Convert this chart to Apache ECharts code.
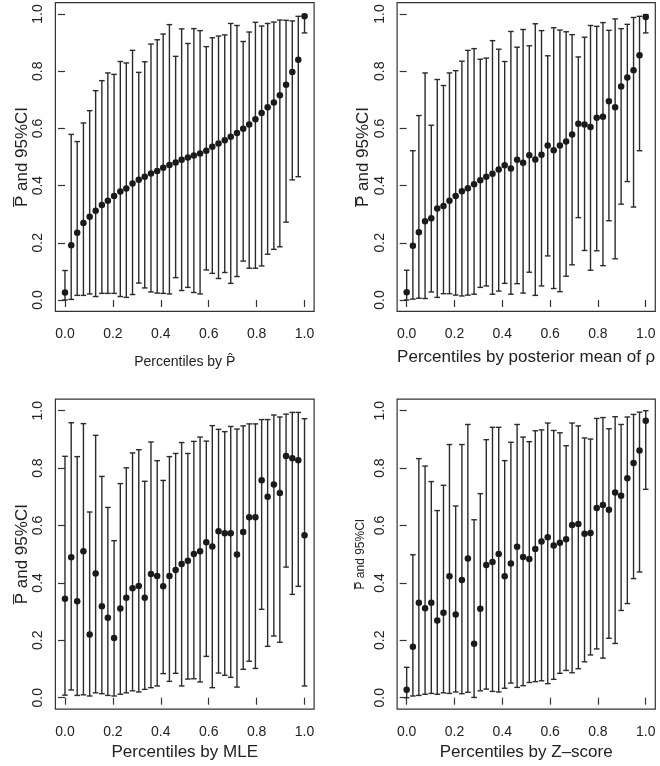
<!DOCTYPE html>
<html>
<head>
<meta charset="utf-8">
<script src="https://cdn.jsdelivr.net/npm/echarts@6/dist/echarts.min.js"></script>
<style>html,body{margin:0;padding:0;background:#fff;}#c{width:660px;height:766px;}</style>
</head>
<body>
<div id="c"></div>
<script>
// Percentile positions (40 groups)
const pct = [0, 0.026, 0.051, 0.077, 0.103, 0.128, 0.154, 0.179, 0.205, 0.231,
  0.256, 0.282, 0.308, 0.333, 0.359, 0.385, 0.410, 0.436, 0.462, 0.487,
  0.513, 0.538, 0.564, 0.590, 0.615, 0.641, 0.667, 0.692, 0.718, 0.744,
  0.769, 0.795, 0.821, 0.846, 0.872, 0.897, 0.923, 0.949, 0.974, 1];
const tickValues = [0, 0.2, 0.4, 0.6, 0.8, 1.0];

// Panel 1: percentiles by P-hat
const p1Mean = [0.026,0.191,0.235,0.269,0.291,0.312,0.332,0.347,0.364,0.379,0.390,0.407,0.420,0.431,0.442,0.451,0.462,0.472,0.481,0.490,0.498,0.505,0.512,0.522,0.536,0.547,0.559,0.571,0.584,0.599,0.614,0.632,0.654,0.674,0.691,0.716,0.753,0.797,0.840,0.992];
const p1Hi = [0.103,0.579,0.554,0.619,0.662,0.732,0.767,0.794,0.789,0.834,0.829,0.873,0.796,0.833,0.895,0.910,0.930,0.963,0.852,0.948,0.897,0.949,0.942,0.886,0.917,0.923,0.927,0.967,0.960,0.904,0.937,0.971,0.958,0.967,0.972,0.979,0.978,0.976,0.992,0.998];
const p1Lo = [0.0,0.002,0.016,0.016,0.021,0.012,0.023,0.023,0.023,0.012,0.009,0.019,0.059,0.042,0.028,0.024,0.023,0.021,0.078,0.033,0.044,0.026,0.021,0.105,0.093,0.075,0.096,0.058,0.082,0.136,0.111,0.111,0.119,0.160,0.177,0.186,0.272,0.420,0.431,0.934];

// Panel 2: percentiles by posterior mean of rho
const p2Mean = [0.027,0.190,0.237,0.275,0.286,0.320,0.329,0.347,0.364,0.380,0.391,0.405,0.419,0.431,0.441,0.456,0.471,0.460,0.490,0.480,0.506,0.491,0.508,0.540,0.524,0.540,0.554,0.579,0.616,0.614,0.605,0.637,0.641,0.695,0.674,0.747,0.778,0.803,0.856,0.990];
const p2Hi = [0.104,0.522,0.645,0.794,0.611,0.771,0.750,0.794,0.802,0.835,0.873,0.879,0.842,0.846,0.907,0.877,0.834,0.939,0.884,0.946,0.889,0.966,0.942,0.854,0.952,0.944,0.938,0.928,0.850,0.919,0.960,0.957,0.970,0.943,0.983,0.949,0.964,0.988,0.992,0.998];
const p2Lo = [0.0,0.003,0.006,0.005,0.028,0.009,0.022,0.022,0.017,0.014,0.017,0.020,0.044,0.049,0.020,0.031,0.058,0.020,0.057,0.024,0.097,0.016,0.049,0.154,0.040,0.029,0.083,0.123,0.288,0.173,0.104,0.172,0.120,0.277,0.144,0.335,0.414,0.325,0.522,0.934];

// Panel 3: percentiles by MLE
const p3Mean = [0.345,0.489,0.336,0.510,0.220,0.433,0.319,0.279,0.208,0.311,0.348,0.381,0.389,0.348,0.431,0.424,0.388,0.424,0.445,0.466,0.477,0.501,0.510,0.542,0.527,0.580,0.573,0.573,0.499,0.577,0.629,0.629,0.758,0.700,0.743,0.713,0.842,0.834,0.827,0.566];
const p3Hi = [0.841,0.958,0.840,0.955,0.647,0.914,0.771,0.663,0.547,0.746,0.801,0.853,0.864,0.754,0.891,0.826,0.757,0.840,0.851,0.889,0.851,0.893,0.908,0.894,0.948,0.935,0.927,0.945,0.936,0.947,0.954,0.954,0.969,0.969,0.985,0.978,0.988,0.994,0.994,0.972];
const p3Lo = [0.009,0.027,0.008,0.010,0.006,0.017,0.014,0.008,0.006,0.012,0.017,0.024,0.020,0.029,0.035,0.041,0.084,0.057,0.085,0.041,0.065,0.066,0.055,0.144,0.035,0.086,0.078,0.071,0.037,0.099,0.127,0.102,0.308,0.179,0.215,0.193,0.455,0.360,0.388,0.041];

// Panel 4: percentiles by Z-score
const p4Mean = [0.028,0.178,0.331,0.312,0.331,0.269,0.296,0.423,0.290,0.410,0.485,0.188,0.310,0.462,0.473,0.501,0.423,0.468,0.526,0.490,0.483,0.518,0.544,0.559,0.530,0.540,0.552,0.602,0.605,0.571,0.574,0.661,0.671,0.655,0.715,0.704,0.765,0.818,0.861,0.965];
const p4Hi = [0.106,0.498,0.833,0.807,0.753,0.652,0.740,0.882,0.668,0.882,0.952,0.620,0.711,0.899,0.942,0.942,0.826,0.890,0.952,0.908,0.892,0.930,0.933,0.957,0.931,0.923,0.878,0.957,0.947,0.905,0.901,0.973,0.976,0.937,0.979,0.952,0.978,0.987,0.995,1.000];
const p4Lo = [0.0,0.006,0.008,0.012,0.015,0.012,0.017,0.015,0.020,0.014,0.019,0.001,0.024,0.030,0.022,0.020,0.033,0.051,0.036,0.042,0.053,0.056,0.059,0.049,0.064,0.085,0.095,0.087,0.101,0.125,0.149,0.170,0.138,0.207,0.189,0.304,0.328,0.415,0.438,0.726];

const xNames = ['Percentiles by P\u0302', 'Percentiles by posterior mean of \u03C1', 'Percentiles by MLE', 'Percentiles by Z\u2013score'];
const yName = 'P\u0305 and 95%CI';

const FONT = '"Liberation Sans", Arial, Helvetica, sans-serif';
const INK = '#222';

const grids = [
  {left: 55.4, top: 2.6, width: 258.7, height: 308.8},
  {left: 397.1, top: 2.6, width: 258.2, height: 308.8},
  {left: 55.4, top: 399.2, width: 258.7, height: 310},
  {left: 397.1, top: 399.2, width: 258.2, height: 310}
];
const xNameSize = [14, 17, 17, 17];
const xNameGap = [44, 37, 35, 35];
const yNameSize = [17, 17, 17, 12];
const yNameGap = [23, 23, 23, 30];

const panels = [[p1Mean,p1Lo,p1Hi],[p2Mean,p2Lo,p2Hi],[p3Mean,p3Lo,p3Hi],[p4Mean,p4Lo,p4Hi]];

function renderBar(params, api) {
  const x = api.value(0);
  const a = api.coord([x, api.value(1)]);
  const b = api.coord([x, api.value(2)]);
  const w = 2.8;
  const style = {stroke: '#2b2b2b', lineWidth: 1.4};
  return {type: 'group', children: [
    {type: 'line', shape: {x1: a[0], y1: a[1], x2: b[0], y2: b[1]}, style: style},
    {type: 'line', shape: {x1: a[0]-w, y1: a[1], x2: a[0]+w, y2: a[1]}, style: style},
    {type: 'line', shape: {x1: b[0]-w, y1: b[1], x2: b[0]+w, y2: b[1]}, style: style}
  ]};
}

const option = {
  animation: false,
  backgroundColor: '#fff',
  textStyle: {fontFamily: FONT},
  grid: grids.map(g => Object.assign({show: true, borderColor: '#333', borderWidth: 1.2, backgroundColor: 'transparent'}, g)),
  xAxis: grids.map((g, i) => ({
    type: 'value', gridIndex: i, min: -0.04, max: 1.04,
    splitLine: {show: false},
    axisLine: {show: false},
    axisTick: {show: true, customValues: tickValues, length: 7, lineStyle: {color: '#333', width: 1.2}},
    axisLabel: {customValues: tickValues, formatter: v => v.toFixed(1), fontSize: 14, color: INK, margin: 16, fontFamily: FONT},
    name: xNames[i], nameLocation: 'middle', nameGap: xNameGap[i],
    nameTextStyle: {fontSize: xNameSize[i], color: INK, fontFamily: FONT}
  })),
  yAxis: grids.map((g, i) => ({
    type: 'value', gridIndex: i, min: -0.04, max: 1.04,
    splitLine: {show: false},
    axisLine: {show: false},
    axisTick: {show: true, customValues: tickValues, length: 7, lineStyle: {color: '#333', width: 1.2}},
    axisLabel: {customValues: tickValues, formatter: v => v.toFixed(1), fontSize: 14, color: INK, margin: 10, rotate: 90, fontFamily: FONT},
    name: yName, nameLocation: 'middle', nameGap: yNameGap[i],
    nameTextStyle: {fontSize: yNameSize[i], color: INK, fontFamily: FONT}
  })),
  series: []
};

panels.forEach((p, i) => {
  const [mean, lo, hi] = p;
  option.series.push({
    type: 'custom', xAxisIndex: i, yAxisIndex: i, silent: true,
    data: pct.map((x, k) => [x, lo[k], hi[k]]),
    encode: {x: 0, y: [1, 2]},
    renderItem: renderBar, z: 2
  });
  option.series.push({
    type: 'scatter', xAxisIndex: i, yAxisIndex: i, silent: true,
    data: pct.map((x, k) => [x, mean[k]]),
    symbol: 'circle', symbolSize: 6.5,
    itemStyle: {color: '#1a1a1a', opacity: 1}, z: 3
  });
});

const chart = echarts.init(document.getElementById('c'), null, {renderer: 'canvas'});
chart.setOption(option);
</script>
</body>
</html>
